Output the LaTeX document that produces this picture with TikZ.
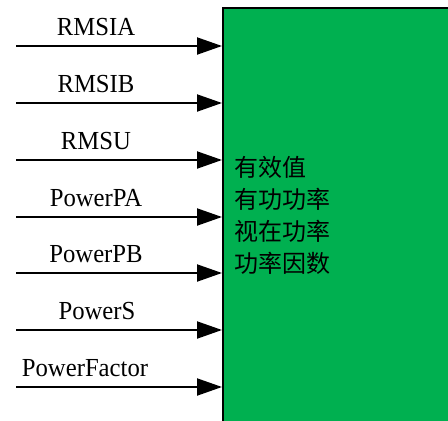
\documentclass[tikz,border=0pt]{standalone}
\usepackage{fontspec}
\usetikzlibrary{arrows.meta}
\newfontfamily\cjk{Noto Sans CJK SC}
\newfontfamily\latinlab[FakeStretch=0.95]{Liberation Serif}
\definecolor{boxgreen}{HTML}{00B050}
\begin{document}
\begin{tikzpicture}[x=1pt,y=-1pt,
  blockbox/.style={draw=black,line width=2pt,fill=boxgreen,inner sep=0pt,
    minimum width=240pt,minimum height=440pt},
  sig/.style={line width=2pt,-{Triangle[length=25pt,width=17pt]}},
  siglabel/.style={anchor=base,inner sep=0pt,font=\latinlab\fontsize{26}{30}\selectfont},
  blocktext/.style={anchor=west,align=left,inner sep=0pt,font=\cjk\fontsize{24}{32}\selectfont}]
\useasboundingbox (0,0) rectangle (448,421);
\clip (0,0) rectangle (448,421);
\node[blockbox] (blk) at (343,228) {};
\node[blocktext] (bt) at (234,215.5) {有效值\\有功功率\\视在功率\\功率因数};
\foreach \i/\y/\lx/\t in {1/46/96/RMSIA,2/103/96/RMSIB,3/160/96/RMSU,4/217/96/PowerPA,5/273/96/PowerPB,6/330/97/PowerS,7/387/85/PowerFactor}{
  \coordinate (s\i) at (16,\y);
  \draw[sig] (s\i) -- (s\i -| blk.west);
  \node[siglabel] (l\i) at (\lx,\y-11) {\t};
}
\end{tikzpicture}
\end{document}
